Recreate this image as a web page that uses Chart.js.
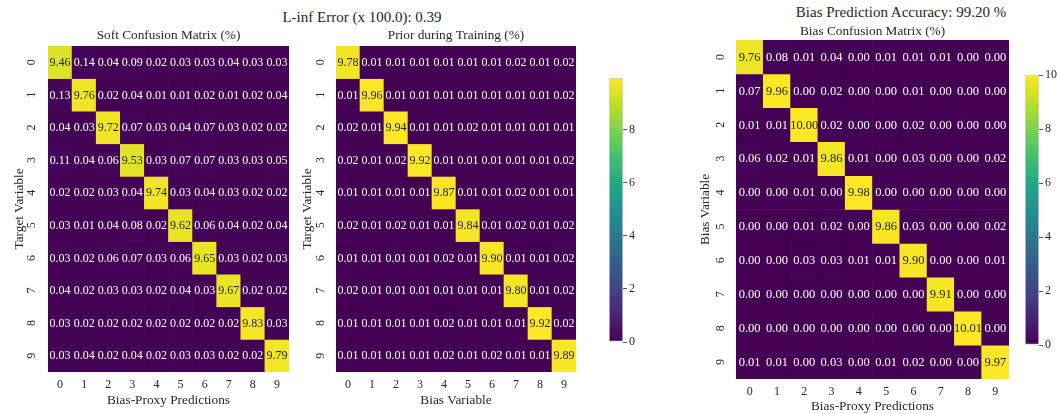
<!DOCTYPE html>
<html><head><meta charset="utf-8">
<script src="https://cdn.jsdelivr.net/npm/chart.js@4.4.1/dist/chart.umd.min.js"></script>
<style>
html,body{margin:0;padding:0;background:#fff;width:1058px;height:414px;overflow:hidden;position:relative;font-family:"Liberation Serif",serif;}
canvas{position:absolute;}
.sup{position:absolute;text-align:center;color:#262626;font-size:15px;line-height:20px;white-space:nowrap;}
</style></head><body>
<div class="sup" style="left:162px;top:7px;width:400px;">L-inf Error (x 100.0): 0.39</div>
<div class="sup" style="left:701px;top:2px;width:400px;">Bias Prediction Accuracy: 99.20 %</div>
<canvas id="m1" width="290" height="414" style="left:0;top:0"></canvas>
<canvas id="m2" width="300" height="414" style="left:290px;top:0"></canvas>
<canvas id="cb1" width="50" height="300" style="left:595px;top:60px"></canvas>
<canvas id="m3" width="330" height="414" style="left:690px;top:0"></canvas>
<canvas id="cb2" width="46" height="300" style="left:1012px;top:60px"></canvas>
<script>
const classLabels = ['0','1','2','3','4','5','6','7','8','9'];

const softConfusion = [
  [9.46,0.14,0.04,0.09,0.02,0.03,0.03,0.04,0.03,0.03],
  [0.13,9.76,0.02,0.04,0.01,0.01,0.02,0.01,0.02,0.04],
  [0.04,0.03,9.72,0.07,0.03,0.04,0.07,0.03,0.02,0.02],
  [0.11,0.04,0.06,9.53,0.03,0.07,0.07,0.03,0.03,0.05],
  [0.02,0.02,0.03,0.04,9.74,0.03,0.04,0.03,0.02,0.02],
  [0.03,0.01,0.04,0.08,0.02,9.62,0.06,0.04,0.02,0.04],
  [0.03,0.02,0.06,0.07,0.03,0.06,9.65,0.03,0.02,0.03],
  [0.04,0.02,0.03,0.03,0.02,0.04,0.03,9.67,0.02,0.02],
  [0.03,0.02,0.02,0.02,0.02,0.02,0.02,0.02,9.83,0.03],
  [0.03,0.04,0.02,0.04,0.02,0.03,0.03,0.02,0.02,9.79]
];

const priorTraining = [
  [9.78,0.01,0.01,0.01,0.01,0.01,0.01,0.02,0.01,0.02],
  [0.01,9.96,0.01,0.01,0.01,0.01,0.01,0.01,0.01,0.02],
  [0.02,0.01,9.94,0.01,0.01,0.02,0.01,0.01,0.01,0.01],
  [0.02,0.01,0.02,9.92,0.01,0.01,0.01,0.01,0.01,0.02],
  [0.01,0.01,0.01,0.01,9.87,0.01,0.01,0.02,0.01,0.01],
  [0.02,0.01,0.02,0.01,0.01,9.84,0.01,0.02,0.01,0.02],
  [0.01,0.01,0.01,0.01,0.02,0.01,9.90,0.01,0.01,0.02],
  [0.02,0.01,0.01,0.01,0.01,0.01,0.01,9.80,0.01,0.02],
  [0.01,0.01,0.01,0.01,0.02,0.01,0.01,0.01,9.92,0.02],
  [0.01,0.01,0.01,0.01,0.02,0.01,0.02,0.01,0.01,9.89]
];

const biasConfusion = [
  [9.76,0.08,0.01,0.04,0.00,0.01,0.01,0.01,0.00,0.00],
  [0.07,9.96,0.00,0.02,0.00,0.00,0.01,0.00,0.00,0.00],
  [0.01,0.01,10.00,0.02,0.00,0.00,0.02,0.00,0.00,0.00],
  [0.06,0.02,0.01,9.86,0.01,0.00,0.03,0.00,0.00,0.02],
  [0.00,0.00,0.01,0.00,9.98,0.00,0.00,0.00,0.00,0.00],
  [0.00,0.00,0.01,0.02,0.00,9.86,0.03,0.00,0.00,0.02],
  [0.00,0.00,0.03,0.03,0.01,0.01,9.90,0.00,0.00,0.01],
  [0.00,0.00,0.00,0.00,0.00,0.00,0.00,9.91,0.00,0.00],
  [0.00,0.00,0.00,0.00,0.00,0.00,0.00,0.00,10.01,0.00],
  [0.01,0.01,0.00,0.03,0.00,0.01,0.02,0.00,0.00,9.97]
];

const colorbarTicksLeft = [0,2,4,6,8];
const colorbarTicksRight = [0,2,4,6,8,10];

const FONT = "'Liberation Serif', 'DejaVu Serif', serif";
const TXT = '#262626';

const VIRIDIS = ['#440154','#482475','#414487','#355f8d','#2a788e','#21918c','#22a884','#44bf70','#7ad151','#bddf26','#fde725'];
function hex2rgb(h){return [parseInt(h.slice(1,3),16),parseInt(h.slice(3,5),16),parseInt(h.slice(5,7),16)];}
function viridis(t){
  t = Math.max(0, Math.min(1, t));
  const s = t * 10, i = Math.min(9, Math.floor(s)), f = s - i;
  const a = hex2rgb(VIRIDIS[i]), b = hex2rgb(VIRIDIS[i+1]);
  const c = a.map((v,k)=>Math.round(v + (b[k]-v)*f));
  return 'rgb(' + c.join(',') + ')';
}

const annotate = {
  id: 'annotate',
  afterDatasetsDraw(chart, args, opts) {
    const ctx = chart.ctx;
    ctx.save();
    ctx.font = opts.size + 'px ' + FONT;
    ctx.textAlign = 'center';
    ctx.textBaseline = 'middle';
    chart.data.datasets.forEach((ds, di) => {
      const meta = chart.getDatasetMeta(di);
      meta.data.forEach((el, i) => {
        const v = ds.values[i];
        const p = el.getCenterPoint();
        ctx.fillStyle = v / opts.vmax > 0.5 ? '#262626' : '#ffffff';
        ctx.fillText(v.toFixed(2), p.x, p.y + 0.5);
      });
    });
    ctx.restore();
  }
};

function makeHeatmap(id, matrix, o) {
  const datasets = matrix.map((row, r) => ({
    data: row.map(() => [r - 0.5, r + 0.5]),
    values: row,
    backgroundColor: row.map(v => viridis(v / o.vmax)),
    borderWidth: 0,
    grouped: false,
    barPercentage: 1,
    categoryPercentage: 1
  }));
  new Chart(document.getElementById(id), {
    type: 'bar',
    data: { labels: classLabels, datasets },
    plugins: [annotate],
    options: {
      responsive: false, animation: false, devicePixelRatio: 1,
      layout: { padding: { left: 0, right: o.padRight, top: o.padTop, bottom: 0 } },
      plugins: {
        legend: { display: false }, tooltip: { enabled: false },
        title: { display: true, fullSize: false, text: o.title, color: TXT, font: { family: FONT, size: 13.3, weight: 'normal' }, padding: { top: 0, bottom: o.titlePadBottom } },
        annotate: { vmax: o.vmax, size: o.annotSize }
      },
      scales: {
        x: {
          type: 'category', offset: true,
          ticks: { color: TXT, font: { family: FONT, size: 12 }, padding: o.xTickPad, maxRotation: 0, autoSkip: false },
          grid: { display: false, drawTicks: false }, border: { display: false },
          title: { display: true, text: o.xTitle, color: TXT, font: { family: FONT, size: 13.3 }, padding: { top: 0, bottom: o.xTitlePad } },
          afterFit: s => { s.height = o.xHeight; }
        },
        y: {
          type: 'linear', min: -0.5, max: 9.5, reverse: true,
          afterBuildTicks: s => { s.ticks = classLabels.map((_, i) => ({ value: i })); },
          ticks: { color: TXT, font: { family: FONT, size: 12 }, callback: (v, i) => classLabels[i], minRotation: 90, maxRotation: 90, crossAlign: 'center', padding: o.yTickPad, autoSkip: false },
          grid: { display: false, drawTicks: false }, border: { display: false },
          title: { display: true, text: o.yTitle, color: TXT, font: { family: FONT, size: 13.3 }, padding: { top: o.yTitlePad, bottom: 0 } },
          afterFit: s => { s.width = o.yWidth; }
        }
      }
    }
  });
}

function makeColorbar(id, vmax, ticks, o) {
  new Chart(document.getElementById(id), {
    type: 'bar',
    data: { labels: [''], datasets: [{
      data: [[0, vmax]],
      backgroundColor: c => {
        const ca = c.chart.chartArea;
        if (!ca) return VIRIDIS[0];
        const g = c.chart.ctx.createLinearGradient(0, ca.bottom, 0, ca.top);
        VIRIDIS.forEach((col, k) => g.addColorStop(k / 10, col));
        return g;
      },
      borderColor: '#d4d4d4', borderWidth: 1, borderSkipped: false,
      barPercentage: 1, categoryPercentage: 1
    }]},
    options: {
      responsive: false, animation: false, devicePixelRatio: 1,
      layout: { padding: { left: o.left, right: 0, top: o.top, bottom: o.top } },
      plugins: { legend: { display: false }, tooltip: { enabled: false } },
      scales: {
        x: { display: false },
        y: {
          position: 'right', min: 0, max: vmax,
          afterBuildTicks: s => { s.ticks = ticks.map(v => ({ value: v })); },
          ticks: { color: TXT, font: { family: FONT, size: 12 }, padding: 2 },
          grid: { drawOnChartArea: false, drawTicks: true, tickLength: 4, color: '#555' },
          border: { display: false },
          afterFit: s => { s.width = o.width; }
        }
      }
    }
  });
}

makeHeatmap('m1', softConfusion, {
  title: 'Soft Confusion Matrix (%)', xTitle: 'Bias-Proxy Predictions', yTitle: 'Target Variable',
  vmax: 9.96, annotSize: 12, padRight: 1, padTop: 28, titlePadBottom: 2,
  xHeight: 42, xTickPad: 5.5, xTitlePad: 6, yWidth: 48, yTickPad: 13, yTitlePad: 12
});
makeHeatmap('m2', priorTraining, {
  title: 'Prior during Training (%)', xTitle: 'Bias Variable', yTitle: 'Target Variable',
  vmax: 9.96, annotSize: 12, padRight: 14, padTop: 28, titlePadBottom: 2,
  xHeight: 42, xTickPad: 5.5, xTitlePad: 6, yWidth: 46, yTickPad: 12, yTitlePad: 10
});
makeHeatmap('m3', biasConfusion, {
  title: 'Bias Confusion Matrix (%)', xTitle: 'Bias-Proxy Predictions', yTitle: 'Bias Variable',
  vmax: 10.01, annotSize: 12.5, padRight: 11, padTop: 24, titlePadBottom: 0,
  xHeight: 35, xTickPad: 5.5, xTitlePad: 0, yWidth: 46, yTickPad: 12.3, yTitlePad: 8
});
makeColorbar('cb1', 9.96, colorbarTicksLeft, { left: 14, top: 18, width: 22 });
makeColorbar('cb2', 10.01, colorbarTicksRight, { left: 13, top: 15, width: 19 });
</script>
</body></html>
